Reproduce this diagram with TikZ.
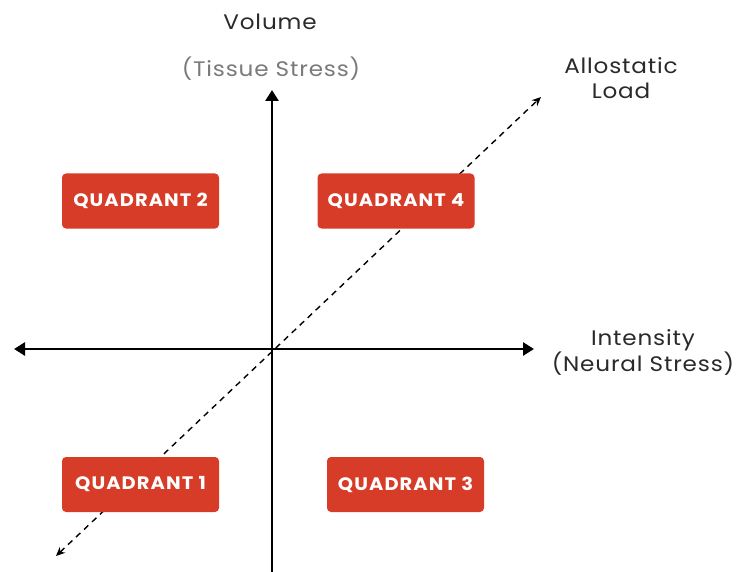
\documentclass[tikz,border=0pt]{standalone}
\usepackage{fontspec}
\setmainfont{Poppins}
\newfontfamily\labelfont[LetterSpace=4,FakeStretch=1.1]{Poppins}
\newfontfamily\boxfont[LetterSpace=6,FakeStretch=1.08]{Poppins Bold}
\usetikzlibrary{arrows.meta}
\definecolor{quadred}{HTML}{D63C27}
\definecolor{labeldark}{HTML}{2A2A2A}
\definecolor{labelgray}{HTML}{7A7A7A}
\begin{document}
\begin{tikzpicture}[x=1pt,y=-1pt,
  quadbox/.style={fill=quadred, rounded corners=4pt, text=white, font=\boxfont\fontsize{18}{20}\selectfont,
    minimum width=157pt, minimum height=55pt, inner sep=0pt},
  axislabel/.style={font=\labelfont\fontsize{21}{25}\selectfont, text=labeldark, align=center, inner sep=0pt},
  axisline/.style={line width=2.6pt, -{Triangle[length=11pt,width=13pt]}},
  loadline/.style={line width=1.4pt, dash pattern=on 6pt off 5pt, {Stealth[length=9pt,width=8pt]}-{Stealth[length=9pt,width=8pt]}}]
\useasboundingbox (0,0) rectangle (746,572);
% axes end points
\coordinate (yBot) at (272,572);
\coordinate (yTop) at (272,90);
\coordinate (xLeft) at (14,349);
\coordinate (xRight) at (534,349);
\coordinate (loadLow) at (56,556);
\coordinate (loadHigh) at (541,97);
% axes
\draw[axisline] (yBot) -- (yTop);
\draw[axisline, {Triangle[length=11pt,width=13pt]}-{Triangle[length=11pt,width=13pt]}] (xLeft) -- (xRight);
% allostatic load diagonal
\draw[loadline] (loadLow) -- (loadHigh);
% quadrant boxes
\node[quadbox] (q2) at (140.5,201) {QUADRANT 2};
\node[quadbox] (q4) at (396,201) {QUADRANT 4};
\node[quadbox] (q1) at (140.5,484.5) {QUADRANT 1};
\node[quadbox] (q3) at (405.5,484.5) {QUADRANT 3};
% axis labels
\node[axislabel] (vol) at (270,22) {Volume};
\node[axislabel, text=labelgray] (tissue) at (271,69) {(Tissue Stress)};
\node[axislabel] (allo) at (621,78) {Allostatic\\Load};
\node[axislabel] (inten) at (643,352) {Intensity\\(Neural Stress)};
\end{tikzpicture}
\end{document}
